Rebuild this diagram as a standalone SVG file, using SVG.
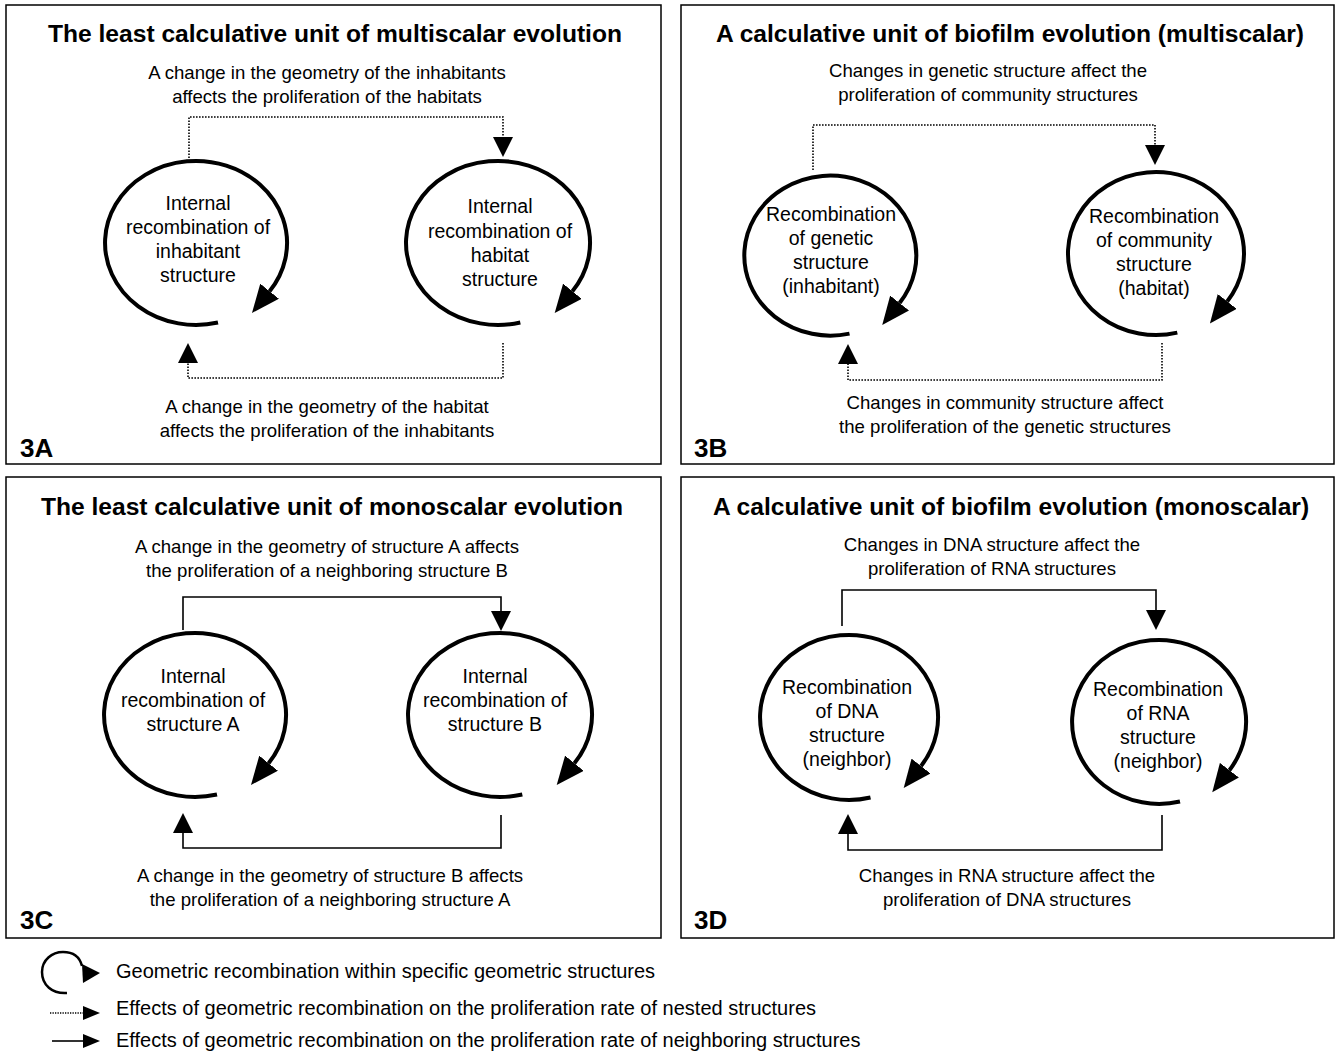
<svg xmlns="http://www.w3.org/2000/svg" width="1338" height="1055" viewBox="0 0 1338 1055">
<defs>
<style>
.panel{fill:none;stroke:#000;stroke-width:1.5}
.title{font-family:"Liberation Sans",Arial,sans-serif;font-weight:bold;font-size:24.6px;text-anchor:middle;fill:#000}
.lbl{font-family:"Liberation Sans",Arial,sans-serif;font-size:18.6px;text-anchor:middle;fill:#000}
.ctext{font-family:"Liberation Sans",Arial,sans-serif;font-size:19.5px;text-anchor:middle;fill:#000}
.tag{font-family:"Liberation Sans",Arial,sans-serif;font-weight:bold;font-size:26px;fill:#000}
.leg{font-family:"Liberation Sans",Arial,sans-serif;font-size:20px;fill:#000}
.loop{fill:none;stroke:#000;stroke-width:4;marker-end:url(#big)}
.dot{fill:none;stroke:#000;stroke-width:1.6;stroke-dasharray:1.6 1.4;marker-end:url(#small)}
.sol{fill:none;stroke:#000;stroke-width:1.6;marker-end:url(#small)}
</style>
<marker id="big" markerUnits="userSpaceOnUse" viewBox="0 0 28 24" refX="0" refY="12" markerWidth="28" markerHeight="24" orient="auto">
<path d="M0,0 L28,12 L0,24 Z" fill="#000"/>
</marker>
<marker id="small" markerUnits="userSpaceOnUse" viewBox="0 0 20 20" refX="0" refY="10" markerWidth="20" markerHeight="20" orient="auto">
<path d="M0,0 L20,10 L0,20 Z" fill="#000"/>
</marker>
</defs>
<rect width="1338" height="1055" fill="#fff"/>

<g id="panel-3A">
<rect class="panel" x="6" y="5" width="655" height="459"/>
<text class="title" x="335" y="42">The least calculative unit of multiscalar evolution</text>
<text class="lbl" x="327" y="79">A change in the geometry of the inhabitants</text>
<text class="lbl" x="327" y="103">affects the proliferation of the habitats</text>
<text class="lbl" x="327" y="413">A change in the geometry of the habitat</text>
<text class="lbl" x="327" y="437">affects the proliferation of the inhabitants</text>
<text class="tag" x="20" y="457">3A</text>
</g>
<g id="node-3A-inhabitant">
<path class="loop" d="M218,322.5 A91,82 0 1 1 269.6,291.2"/>
<text class="ctext" x="198" y="210">Internal</text>
<text class="ctext" x="198" y="234">recombination of</text>
<text class="ctext" x="198" y="258">inhabitant</text>
<text class="ctext" x="198" y="282">structure</text>
</g>
<g id="node-3A-habitat">
<path class="loop" d="M520.3,322.5 A92,82 0 1 1 572.4,291.2"/>
<text class="ctext" x="500" y="213">Internal</text>
<text class="ctext" x="500" y="238">recombination of</text>
<text class="ctext" x="500" y="262">habitat</text>
<text class="ctext" x="500" y="286">structure</text>
</g>

<g id="panel-3B">
<rect class="panel" x="681" y="5" width="653" height="459"/>
<text class="title" x="1010" y="42">A calculative unit of biofilm evolution (multiscalar)</text>
<text class="lbl" x="988" y="77">Changes in genetic structure affect the</text>
<text class="lbl" x="988" y="101">proliferation of community structures</text>
<text class="lbl" x="1005" y="409">Changes in community structure affect</text>
<text class="lbl" x="1005" y="433">the proliferation of the genetic structures</text>
<text class="tag" x="694" y="457">3B</text>
</g>
<g id="node-3B-genetic">
<path class="loop" d="M849.5,333.6 A86,80 0 1 1 899.6,303"/>
<text class="ctext" x="831" y="221">Recombination</text>
<text class="ctext" x="831" y="245">of genetic</text>
<text class="ctext" x="831" y="269">structure</text>
<text class="ctext" x="831" y="293">(inhabitant)</text>
</g>
<g id="node-3B-community">
<path class="loop" d="M1177.3,332.6 A88,81.5 0 1 1 1227.2,301.4"/>
<text class="ctext" x="1154" y="223">Recombination</text>
<text class="ctext" x="1154" y="247">of community</text>
<text class="ctext" x="1154" y="271">structure</text>
<text class="ctext" x="1154" y="295">(habitat)</text>
</g>

<g id="panel-3C">
<rect class="panel" x="6" y="477" width="655" height="461"/>
<text class="title" x="332" y="515">The least calculative unit of monoscalar evolution</text>
<text class="lbl" x="327" y="553">A change in the geometry of structure A affects</text>
<text class="lbl" x="327" y="577">the proliferation of a neighboring structure B</text>
<text class="lbl" x="330" y="882">A change in the geometry of structure B affects</text>
<text class="lbl" x="330" y="906">the proliferation of a neighboring structure A</text>
<text class="tag" x="20" y="929">3C</text>
</g>
<g id="node-3C-A">
<path class="loop" d="M217,794.5 A91,82 0 1 1 268.6,763.2"/>
<text class="ctext" x="193" y="683">Internal</text>
<text class="ctext" x="193" y="707">recombination of</text>
<text class="ctext" x="193" y="731">structure A</text>
</g>
<g id="node-3C-B">
<path class="loop" d="M522.3,794.5 A92,82 0 1 1 574.4,763.2"/>
<text class="ctext" x="495" y="683">Internal</text>
<text class="ctext" x="495" y="707">recombination of</text>
<text class="ctext" x="495" y="731">structure B</text>
</g>

<g id="panel-3D">
<rect class="panel" x="681" y="477" width="653" height="461"/>
<text class="title" x="1011" y="515">A calculative unit of biofilm evolution (monoscalar)</text>
<text class="lbl" x="992" y="551">Changes in DNA structure affect the</text>
<text class="lbl" x="992" y="575">proliferation of RNA structures</text>
<text class="lbl" x="1007" y="882">Changes in RNA structure affect the</text>
<text class="lbl" x="1007" y="906">proliferation of DNA structures</text>
<text class="tag" x="694" y="929">3D</text>
</g>
<g id="node-3D-DNA">
<path class="loop" d="M870.5,797.5 A89,82.5 0 1 1 921,766"/>
<text class="ctext" x="847" y="694">Recombination</text>
<text class="ctext" x="847" y="718">of DNA</text>
<text class="ctext" x="847" y="742">structure</text>
<text class="ctext" x="847" y="766">(neighbor)</text>
</g>
<g id="node-3D-RNA">
<path class="loop" d="M1180,801.5 A87,82 0 1 1 1229.4,770.2"/>
<text class="ctext" x="1158" y="696">Recombination</text>
<text class="ctext" x="1158" y="720">of RNA</text>
<text class="ctext" x="1158" y="744">structure</text>
<text class="ctext" x="1158" y="768">(neighbor)</text>
</g>

<g id="connectors">
<path class="dot" d="M189,158 V117 H503 V137"/>
<path class="dot" d="M503,343 V378 H188 V363"/>
<path class="dot" d="M813,170 V125 H1155 V145"/>
<path class="dot" d="M1162,343 V380 H848 V364"/>
<path class="sol" d="M183,630 V597 H501 V611"/>
<path class="sol" d="M501,815 V848 H183 V833"/>
<path class="sol" d="M842,626 V590 H1156 V610"/>
<path class="sol" d="M1162,815 V850 H848 V834"/>
</g>

<g id="legend">
<path d="M67,993 C52,994 42,985 42,972 C42,960 52,952 63,952 C74,952 80,958 82,966" fill="none" stroke="#000" stroke-width="2.5"/>
<path d="M82,964 L100,973 L83,983 Z" fill="#000"/>
<text class="leg" x="116" y="978">Geometric recombination within specific geometric structures</text>
<path d="M50,1013 H84" fill="none" stroke="#000" stroke-width="1.3" stroke-dasharray="1.3 1.2"/>
<path d="M83,1006 L100,1013 L83,1020 Z" fill="#000"/>
<text class="leg" x="116" y="1015">Effects of geometric recombination on the proliferation rate of nested structures</text>
<path d="M52,1041 H84" fill="none" stroke="#000" stroke-width="1.6"/>
<path d="M83,1034 L100,1041 L83,1048 Z" fill="#000"/>
<text class="leg" x="116" y="1047">Effects of geometric recombination on the proliferation rate of neighboring structures</text>
</g>
</svg>
